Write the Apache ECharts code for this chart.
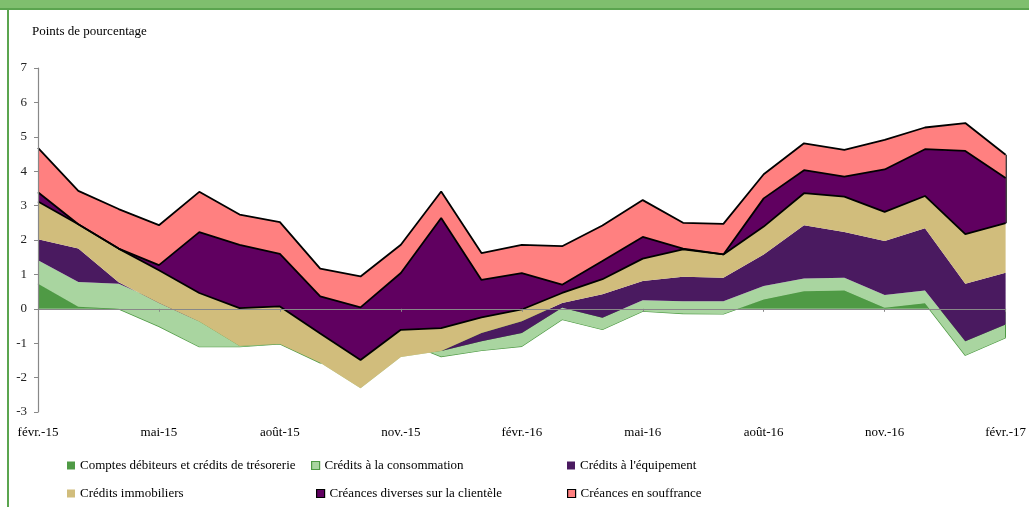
<!DOCTYPE html>
<html><head><meta charset="utf-8">
<script src="https://cdn.jsdelivr.net/npm/echarts@6/dist/echarts.min.js"></script>
<style>html,body{margin:0;padding:0;background:#fff}#c{width:1029px;height:507px}</style>
</head><body><div id="c"></div>
<script>
const months = ['févr.-15','mars-15','avr.-15','mai-15','juin-15','juil.-15','août-15','sept.-15','oct.-15','nov.-15','déc.-15','janv.-16',
  'févr.-16','mars-16','avr.-16','mai-16','juin-16','juil.-16','août-16','sept.-16','oct.-16','nov.-16','déc.-16','janv.-17','févr.-17'];
const yTicks = {min: -3, max: 7, interval: 1};
const seriesNames = ['Comptes débiteurs et crédits de trésorerie','Crédits à la consommation','Crédits à l\'équipement',
  'Crédits immobiliers','Créances diverses sur la clientèle','Créances en souffrance'];
const comptes   = [0.73,0.06,0.00,-0.51,-1.10,-1.10,-1.02,-1.57,-1.75,-0.92,-1.39,-1.21,-1.09,-0.31,-0.60,-0.07,-0.14,-0.15,0.27,0.51,0.53,0.03,0.16,-1.35,-0.84];
const conso     = [0.68,0.72,0.73,0.73,0.73,0.02,0.00,0.00,-0.56,-0.48,0.16,0.27,0.39,0.34,0.34,0.32,0.36,0.37,0.39,0.37,0.37,0.37,0.37,0.41,0.38];
const equip     = [0.61,0.97,0.04,-0.05,0.00,0.00,0.00,0.00,0.00,0.00,0.00,0.24,0.34,0.14,0.68,0.56,0.71,0.68,0.92,1.55,1.33,1.57,1.81,1.67,1.51];
const immo      = [1.10,0.71,0.98,0.95,0.83,1.10,1.09,0.85,0.82,0.79,0.67,0.45,0.34,0.29,0.44,0.65,0.80,0.68,0.81,0.93,1.03,0.85,0.94,1.44,1.44];
const diverses  = [0.27,0.00,0.00,0.15,1.77,1.84,1.53,1.08,1.53,1.65,3.20,1.09,1.06,0.24,0.53,0.63,0.02,0.00,0.82,0.67,0.58,1.23,1.36,2.42,1.31];
const souffr    = [1.29,0.97,1.15,1.16,1.17,0.88,0.92,0.81,0.90,0.82,0.77,0.78,0.82,1.12,1.03,1.07,0.75,0.89,0.70,0.78,0.78,0.86,0.63,0.81,0.68];

const colors = ['#4F9A45','#A9D5A0','#4A1A60','#D1BD7C','#600060','#FF8080'];
const allData = [comptes, conso, equip, immo, diverses, souffr];
const cum = k => months.map((_, i) => { let s = 0; for (let j = 0; j < k; j++) s += allData[j][i]; return +s.toFixed(4); });
const C1 = cum(1), C2 = cum(2), C4 = cum(4), C5 = cum(5), C6 = cum(6);
const lastIdx = months.length - 1;
const FONT = '"Liberation Serif", "Times New Roman", serif';

const seriesList = allData.map((d, k) => ({
  name: seriesNames[k], type: 'line', stack: 'total', stackStrategy: 'all', data: d,
  symbol: 'none', silent: true, animation: false, z: k + 1,
  itemStyle: {color: colors[k]},
  areaStyle: {color: colors[k], opacity: 1},
  lineStyle: k === 0 ? {color: '#4F9A45', width: 1.3} : {opacity: 0},
  emphasis: {disabled: true}
}));
const blackLine = (data) => ({type: 'line', data, symbol: 'none', silent: true, animation: false, z: 10,
  lineStyle: {color: '#000', width: 1.8}, emphasis: {disabled: true}});
seriesList.push(blackLine(C4), blackLine(C5));
const topLine = blackLine(C6);
topLine.markLine = {symbol: 'none', silent: true, animation: false, label: {show: false},
  lineStyle: {color: '#000', width: 1.5, type: 'solid'},
  data: [[{coord: [months[lastIdx], C4[lastIdx]]}, {coord: [months[lastIdx], C6[lastIdx]]}]]};
seriesList.push(topLine);
seriesList.push({type: 'line', data: C1, symbol: 'none', silent: true, animation: false, z: 10, lineStyle: {opacity: 0},
  markLine: {symbol: 'none', silent: true, animation: false, label: {show: false},
    lineStyle: {color: '#4F9A45', width: 1, type: 'solid'},
    data: [[{coord: [months[lastIdx], C1[lastIdx]]}, {coord: [months[lastIdx], C2[lastIdx]]}]]}});

const legendPos = [[62,454],[306,454],[562,454],[62,482],[311,482],[562,482]];
const legendBorder = [null, '#4F9A45', null, null, '#000', '#000'];
const legends = seriesNames.map((n, k) => ({
  data: [{name: n, icon: 'rect', itemStyle: {color: colors[k], borderColor: legendBorder[k] || colors[k], borderWidth: legendBorder[k] ? 1.2 : 0}}],
  left: legendPos[k][0], top: legendPos[k][1], itemWidth: 8, itemHeight: 8, selectedMode: false,
  textStyle: {fontFamily: FONT, fontSize: 13, color: '#000'}
}));

const chart = echarts.init(document.getElementById('c'), null, {renderer: 'canvas'});
chart.setOption({
  animation: false,
  backgroundColor: '#fff',
  title: {text: 'Points de pourcentage', left: 27, top: 20, textStyle: {fontFamily: FONT, fontSize: 13, fontWeight: 'normal', color: '#000'}},
  legend: legends,
  grid: {left: 38, right: 23, top: 68, bottom: 95, containLabel: false},
  xAxis: [
    {type: 'category', data: months, boundaryGap: false, position: 'bottom', z: 20,
      axisLine: {show: false, onZero: false}, axisTick: {show: false},
      axisLabel: {interval: 2, margin: 14, fontFamily: FONT, fontSize: 13, color: '#000'}},
    {type: 'category', data: months, boundaryGap: false, position: 'top', z: 20,
      axisLine: {show: true, onZero: true, lineStyle: {color: '#888', width: 1.2}},
      axisTick: {show: true, interval: 2, inside: true, length: 3, lineStyle: {color: '#888'}},
      axisLabel: {show: false}, splitLine: {show: false}}
  ],
  yAxis: {type: 'value', min: yTicks.min, max: yTicks.max, interval: yTicks.interval, z: 20,
    axisLine: {show: true, onZero: false, lineStyle: {color: '#888', width: 1.2}},
    axisTick: {show: true, length: 4, lineStyle: {color: '#888'}},
    axisLabel: {margin: 11, fontFamily: FONT, fontSize: 13, color: '#222'},
    splitLine: {show: false}},
  graphic: [
    {type: 'rect', silent: true, shape: {x: 0, y: 0, width: 1029, height: 9}, style: {fill: '#7FBF6E'}},
    {type: 'rect', silent: true, shape: {x: 0, y: 8, width: 1029, height: 2}, style: {fill: '#5BA54F'}},
    {type: 'rect', silent: true, shape: {x: 7, y: 9, width: 2, height: 498}, style: {fill: '#5BA54F'}}
  ],
  series: seriesList
});
</script></body></html>
